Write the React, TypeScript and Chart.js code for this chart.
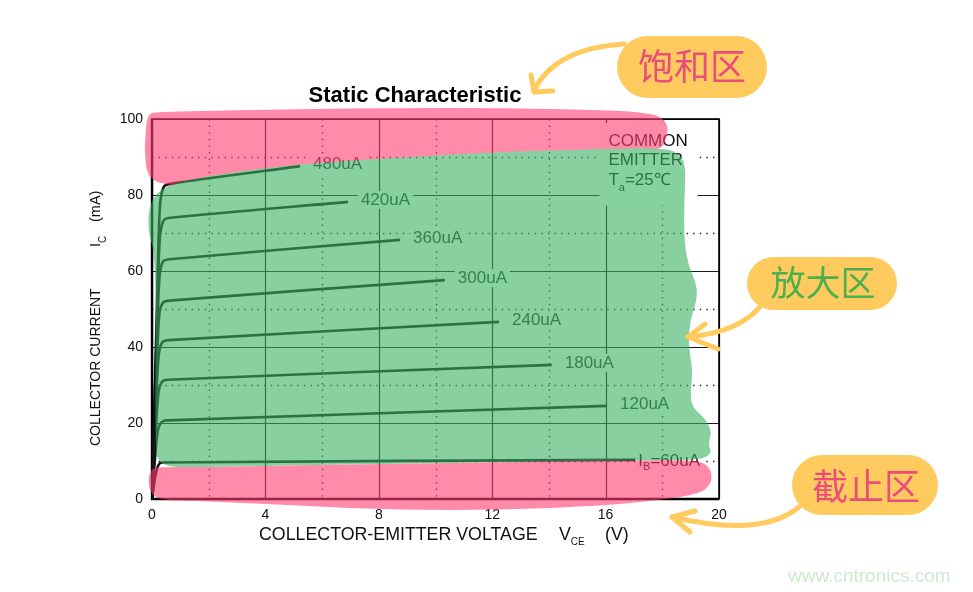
import React, { useEffect, useRef } from 'react';
import { Chart, registerables } from 'chart.js';

Chart.register(...registerables);

type P = [number, number];

// ---- axes ----
const X_MIN = 0;
const X_MAX = 20;
const X_STEP = 4;
const Y_MIN = 0;
const Y_MAX = 100;
const Y_STEP = 20;

// ---- output characteristic curves (VCE [V], IC [mA]) ----
const ibNames = ['60uA', '120uA', '180uA', '240uA', '300uA', '360uA', '420uA', '480uA'];
const ib60: P[] = [[0, 0], [0.12, 6], [0.22, 8.8], [0.35, 9.6], [17.05, 10.3]];
const ib120: P[] = [[0, 0], [0.12, 12], [0.22, 18.5], [0.35, 20.3], [0.55, 20.7], [16.05, 24.5]];
const ib180: P[] = [[0, 0], [0.13, 18], [0.23, 28], [0.35, 30.8], [0.55, 31.4], [14.1, 35.3]];
const ib240: P[] = [[0, 0], [0.14, 25], [0.24, 38], [0.36, 41.2], [0.6, 41.8], [12.24, 46.6]];
const ib300: P[] = [[0, 0], [0.15, 31], [0.25, 48], [0.37, 51.5], [0.6, 52.2], [10.33, 57.6]];
const ib360: P[] = [[0, 0], [0.16, 38], [0.26, 58], [0.38, 62.4], [0.62, 63.1], [8.75, 68.2]];
const ib420: P[] = [[0, 0], [0.17, 45], [0.27, 68], [0.4, 73.2], [0.65, 74], [6.91, 78.2]];
const ib480: P[] = [[0, 0], [0.18, 52], [0.28, 77], [0.42, 82.2], [0.7, 83], [5.22, 87.6]];
const curves: P[][] = [ib60, ib120, ib180, ib240, ib300, ib360, ib420, ib480];

// ---- hand-drawn highlight regions (data units) ----
const pinkTop: P[] = [
  [-0.25, 93.2], [-0.18, 101.1], [0.11, 101.8], [1.69, 102.1], [5.22, 102.6], [8.75, 102.9],
  [12.28, 102.9], [15.8, 102.4], [17.21, 101.8], [17.92, 100.8], [18.2, 98.4], [18.17, 95.0],
  [17.92, 91.5], [15.8, 90.5], [12.28, 89.5], [9.1, 88.0], [5.68, 86.5], [3.35, 84.5],
  [0.99, 82.5], [0.46, 82.8], [0, 83.9], [-0.21, 86.6], [-0.25, 91.8],
];
const greenZone: P[] = [
  [0.28, 81.3], [0.99, 83.7], [3.35, 86.6], [5.68, 88.4], [9.1, 90.0], [12.28, 91.3],
  [15.8, 92.1], [17.92, 92.4], [18.55, 91.3], [18.84, 87.9], [18.77, 78.7], [18.77, 68.2],
  [18.91, 61.6], [19.22, 56.3], [19.22, 52.4], [18.98, 47.1], [18.91, 40.5], [19.08, 33.9],
  [18.98, 27.4], [19.08, 23.9], [19.51, 21.3], [19.75, 17.6], [19.61, 14.2], [19.75, 12.4],
  [19.51, 10.8], [18.98, 10.3], [15.8, 10.0], [12.28, 9.7], [8.75, 9.2], [5.22, 8.9],
  [1.69, 8.4], [0.21, 8.4], [0.11, 15.5], [0.14, 52.4], [0.07, 65.5], [-0.11, 69.5],
  [-0.14, 74.7], [0, 78.7],
];
const pinkBottom: P[] = [
  [0.21, 8.4], [1.69, 8.4], [5.22, 8.9], [8.75, 9.2], [12.28, 9.7], [15.8, 10.0], [18.98, 10.3],
  [19.51, 9.5], [19.75, 7.1], [19.72, 3.9], [19.33, 1.3], [17.92, -0.3], [15.8, -1.8],
  [12.28, -2.9], [8.75, -2.9], [5.22, -1.8], [1.69, -0.5], [0.28, -0.3], [-0.07, 1.8],
  [-0.14, 5.5], [0, 7.9],
];

const FONT = '"Liberation Sans", Arial, Helvetica, sans-serif';
const CJK = '"Noto Sans CJK SC", "Noto Sans CJK JP", sans-serif';

function blobPath(c: CanvasRenderingContext2D, pts: P[]) {
  const n = pts.length;
  const mid = (a: P, b: P): P => [(a[0] + b[0]) / 2, (a[1] + b[1]) / 2];
  const m0 = mid(pts[n - 1], pts[0]);
  c.beginPath();
  c.moveTo(m0[0], m0[1]);
  for (let i = 0; i < n; i++) {
    const p = pts[i];
    const m = mid(p, pts[(i + 1) % n]);
    c.quadraticCurveTo(p[0], p[1], m[0], m[1]);
  }
  c.closePath();
}

function subText(ctx: CanvasRenderingContext2D, parts: [string, boolean][], x: number, y: number, size: number, subSize: number, subDrop: number) {
  let cx = x;
  for (const [t, sub] of parts) {
    ctx.font = `${sub ? subSize : size}px ${FONT}`;
    ctx.fillText(t, cx, sub ? y + subDrop : y);
    cx += ctx.measureText(t).width;
  }
  return cx - x;
}

const decor = {
  id: 'decor',
  beforeDatasetsDraw(chart: any) {
    const { ctx, chartArea: ca, scales } = chart;
    const xs = scales.x;
    const ys = scales.y;
    const xt: number[] = xs.ticks.map((t: any) => t.value);
    const yt: number[] = ys.ticks.map((t: any) => t.value);
    ctx.save();
    const hline = (v: number) => {
      const p = Math.round(ys.getPixelForValue(v)) + 0.5;
      ctx.beginPath(); ctx.moveTo(ca.left, p); ctx.lineTo(ca.right, p); ctx.stroke();
    };
    const vline = (v: number) => {
      const p = Math.round(xs.getPixelForValue(v)) + 0.5;
      ctx.beginPath(); ctx.moveTo(p, ca.top); ctx.lineTo(p, ca.bottom); ctx.stroke();
    };
    // dotted minor grid
    ctx.strokeStyle = '#222';
    ctx.lineWidth = 1.4;
    ctx.setLineDash([1.4, 5.2]);
    for (let i = 0; i < xt.length - 1; i++) vline((xt[i] + xt[i + 1]) / 2);
    for (let i = 0; i < yt.length - 1; i++) hline((yt[i] + yt[i + 1]) / 2);
    // solid major grid
    ctx.setLineDash([]);
    ctx.lineWidth = 1.2;
    ctx.strokeStyle = '#1b1b1b';
    xt.forEach(vline);
    yt.forEach(hline);
    // frame
    ctx.strokeStyle = '#000';
    ctx.lineWidth = 1.6;
    ctx.strokeRect(ca.left, ca.top, ca.right - ca.left, ca.bottom - ca.top);
    ctx.lineWidth = 2.4;
    ctx.beginPath();
    ctx.moveTo(ca.left, ca.top); ctx.lineTo(ca.left, ca.bottom); ctx.lineTo(ca.right, ca.bottom);
    ctx.stroke();

    // curve labels
    ctx.textBaseline = 'middle';
    ctx.textAlign = 'left';
    curves.forEach((c, i) => {
      const end = c[c.length - 1];
      const ex = xs.getPixelForValue(end[0]);
      const ey = ys.getPixelForValue(end[1]);
      const isFirst = i === 0;
      const lx = ex + (isFirst ? 3 : 13);
      const ly = isFirst ? ey + 1 : ey - 2;
      ctx.font = `17px ${FONT}`;
      const w = isFirst ? 64 : ctx.measureText(ibNames[i]).width;
      ctx.fillStyle = '#fff';
      ctx.fillRect(lx - 3, ly - 9, w + 6, 18);
      ctx.fillStyle = isFirst ? '#111' : '#333';
      if (isFirst) {
        subText(ctx, [['I', false], ['B', true], ['=' + ibNames[i], false]], lx, ly, 17, 11, 6);
      } else {
        ctx.fillText(ibNames[i], lx, ly);
      }
    });

    // conditions note
    const nx = xs.getPixelForValue(16.1);
    const ny = [94.2, 89.0, 83.8].map((v) => ys.getPixelForValue(v));
    ctx.fillStyle = '#fff';
    ctx.fillRect(nx - 9, ny[0] - 18, 98, ys.getPixelForValue(77.2) - (ny[0] - 18));
    ctx.fillStyle = '#111';
    ctx.font = `17px ${FONT}`;
    ctx.fillText('COMMON', nx, ny[0]);
    ctx.fillText('EMITTER', nx, ny[1]);
    subText(ctx, [['T', false], ['a', true], ['=25℃', false]], nx, ny[2], 17, 11, 7);
    ctx.restore();
  },
  afterDatasetsDraw(chart: any) {
    const { ctx, scales } = chart;
    const xs = scales.x;
    const ys = scales.y;
    const dpr = chart.currentDevicePixelRatio || 1;
    const off = document.createElement('canvas');
    off.width = chart.canvas.width;
    off.height = chart.canvas.height;
    const o = off.getContext('2d') as CanvasRenderingContext2D;
    o.scale(dpr, dpr);
    const toPx = (pts: P[]): P[] => pts.map(([x, y]) => [xs.getPixelForValue(x), ys.getPixelForValue(y)] as P);
    o.fillStyle = 'rgb(255,60,112)';
    blobPath(o, toPx(pinkTop)); o.fill();
    o.fillStyle = 'rgb(57,177,97)';
    blobPath(o, toPx(greenZone)); o.fill();
    o.fillStyle = 'rgb(255,60,112)';
    blobPath(o, toPx(pinkBottom)); o.fill();
    ctx.save();
    ctx.setTransform(1, 0, 0, 1, 0, 0);
    ctx.globalAlpha = 0.6;
    ctx.drawImage(off, 0, 0);
    ctx.restore();
  },
  afterDraw(chart: any) {
    const { ctx } = chart;
    ctx.save();
    // title
    ctx.fillStyle = '#000';
    ctx.textAlign = 'center';
    ctx.textBaseline = 'middle';
    ctx.font = `bold 22px ${FONT}`;
    ctx.fillText('Static Characteristic', 415, 96);

    // x axis title
    ctx.textAlign = 'left';
    ctx.fillStyle = '#111';
    ctx.font = `17.8px ${FONT}`;
    ctx.fillText('COLLECTOR-EMITTER VOLTAGE', 259, 535);
    subText(ctx, [['V', false], ['CE', true]], 559, 535, 17.8, 10, 7);
    ctx.font = `17.8px ${FONT}`;
    ctx.fillText('(V)', 605, 535);

    // y axis title (rotated)
    ctx.save();
    ctx.translate(96, 446);
    ctx.rotate(-Math.PI / 2);
    ctx.font = `14px ${FONT}`;
    ctx.fillText('COLLECTOR CURRENT', 0, 0);
    subText(ctx, [['I', false], ['C', true]], 199, 0, 14.5, 10, 7);
    ctx.font = `14.5px ${FONT}`;
    ctx.fillText('(mA)', 224, 0);
    ctx.restore();

    // annotation bubbles + arrows
    const yellow = 'rgb(255,203,95)';
    ctx.strokeStyle = yellow;
    ctx.fillStyle = yellow;
    ctx.lineCap = 'round';
    ctx.lineJoin = 'round';
    ctx.lineWidth = 5;
    const bubble = (x: number, y: number, w: number, h: number) => {
      ctx.beginPath();
      (ctx as any).roundRect(x, y, w, h, h / 2);
      ctx.fill();
    };
    // saturation
    bubble(617, 36, 150, 62);
    ctx.beginPath(); ctx.moveTo(624, 44); ctx.quadraticCurveTo(556, 48, 534, 90); ctx.stroke();
    ctx.beginPath(); ctx.moveTo(531, 75); ctx.lineTo(534, 92); ctx.lineTo(553, 91); ctx.stroke();
    // active
    bubble(747, 257, 150, 53);
    ctx.beginPath(); ctx.moveTo(763, 303); ctx.quadraticCurveTo(742, 332, 688, 337); ctx.stroke();
    ctx.beginPath(); ctx.moveTo(705, 324); ctx.lineTo(688, 337); ctx.lineTo(718, 349); ctx.stroke();
    // cut-off
    bubble(792, 455, 146, 60);
    ctx.beginPath(); ctx.moveTo(799, 507); ctx.quadraticCurveTo(762, 538, 672, 517); ctx.stroke();
    ctx.beginPath(); ctx.moveTo(695, 511); ctx.lineTo(672, 517); ctx.lineTo(690, 532); ctx.stroke();

    ctx.textAlign = 'center';
    ctx.textBaseline = 'middle';
    ctx.font = `36px ${CJK}`;
    ctx.fillStyle = '#EB4D7B';
    ctx.fillText('饱和区', 692, 66);
    ctx.fillText('截止区', 866, 486);
    ctx.fillStyle = '#4CB04E';
    ctx.font = `35px ${CJK}`;
    ctx.fillText('放大区', 823, 283);

    // watermark
    ctx.textAlign = 'left';
    ctx.font = `19px ${FONT}`;
    ctx.fillStyle = '#CFE9CF';
    ctx.fillText('www.cntronics.com', 788, 577);
    ctx.restore();
  },
};

export default function App() {
  const ref = useRef<HTMLCanvasElement | null>(null);
  useEffect(() => {
    document.body.style.margin = '0';
    const canvas = ref.current;
    if (!canvas) return;
    const chart = new Chart(canvas, {
      type: 'scatter',
      data: {
        datasets: curves.map((c, i) => ({
          label: 'IB=' + ibNames[i],
          data: c.map(([x, y]) => ({ x, y })),
          showLine: true,
          borderColor: '#141414',
          backgroundColor: '#141414',
          borderWidth: 2.6,
          pointRadius: 0,
          tension: 0.3,
          fill: false,
        })),
      },
      options: {
        responsive: false,
        animation: false,
        devicePixelRatio: 1,
        events: [],
        layout: { padding: { left: 112, right: 254, top: 119, bottom: 63 } },
        plugins: {
          legend: { display: false },
          tooltip: { enabled: false },
          title: { display: false },
        },
        scales: {
          x: {
            type: 'linear',
            min: X_MIN,
            max: X_MAX,
            ticks: { stepSize: X_STEP, color: '#111', font: { family: FONT, size: 14 }, padding: 8, maxRotation: 0 },
            grid: { display: false, drawTicks: false },
            border: { display: false },
            afterFit: (s: any) => { s.height = 30; },
          },
          y: {
            type: 'linear',
            min: Y_MIN,
            max: Y_MAX,
            ticks: { stepSize: Y_STEP, color: '#111', font: { family: FONT, size: 14 }, padding: 9 },
            grid: { display: false, drawTicks: false },
            border: { display: false },
            afterFit: (s: any) => { s.width = 40; },
          },
        },
      } as any,
      plugins: [decor],
    });
    return () => chart.destroy();
  }, []);
  return (
    <div style={{ width: 973, height: 592, background: '#fff' }}>
      <canvas ref={ref} width={973} height={592} style={{ display: 'block' }} />
    </div>
  );
}
